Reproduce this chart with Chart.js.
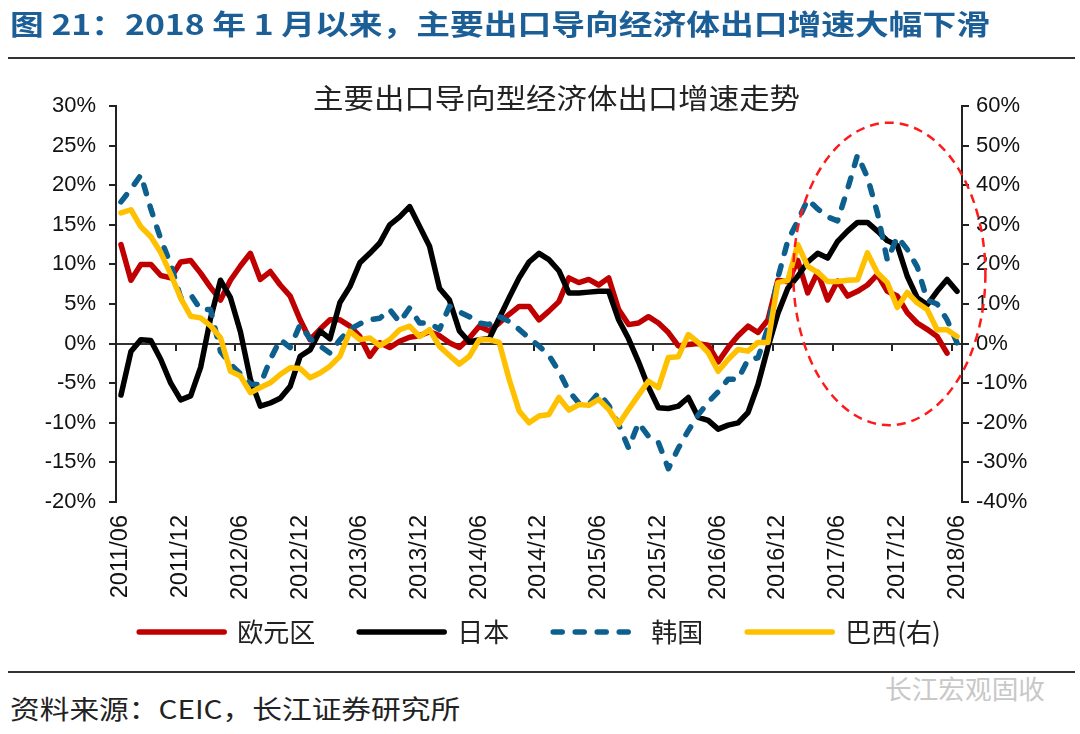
<!DOCTYPE html>
<html lang="zh-CN">
<head>
<meta charset="utf-8">
<title>主要出口导向型经济体出口增速走势</title>
<script src="https://cdn.jsdelivr.net/npm/chart.js@4.4.1/dist/chart.umd.min.js"></script>
<style>
  html, body { margin: 0; padding: 0; background: #fff; }
  #page { position: relative; width: 1080px; height: 734px; overflow: hidden; background: #fff;
          font-family: "Noto Sans CJK SC", "Noto Sans", sans-serif; }
  #page canvas { position: absolute; left: 0; top: 0; }
  .txt { position: absolute; white-space: nowrap; line-height: 1; transform-origin: 0 50%; }
  #head { left: 10px; top: 9px; font-size: 28px; font-weight: bold; color: #1c5f96; }
  .rule { position: absolute; left: 8px; width: 1067px; height: 2px; background: #333; }
  #ctitle { left: 313px; top: 83px; font-size: 28px; color: #222; }
  #src { left: 10px; top: 695px; font-size: 26px; color: #222; }
  #wm { left: 885px; top: 675px; font-size: 26px; color: #c8c8c8; }
</style>
</head>
<body>
<div id="page">
  <canvas id="chart" width="1080" height="660"></canvas>
  <div class="txt" id="head">图 21：2018 年 1 月以来，主要出口导向经济体出口增速大幅下滑</div>
  <div class="rule" style="top:57px"></div>
  <div class="txt" id="ctitle">主要出口导向型经济体出口增速走势</div>
  <div class="rule" style="top:671px"></div>
  <div class="txt" id="src">资料来源：CEIC，长江证券研究所</div>
  <div class="txt" id="wm">长江宏观固收</div>
</div>
<script>
// months 2011/06 .. 2018/06
const months = [];
for (let y = 2011, m = 6; y < 2018 || (y === 2018 && m <= 6);) {
    months.push(y + '/' + String(m).padStart(2, '0'));
    m++;
    if (m > 12) { m = 1; y++; }
}

// left axis, %
const euroArea = [12.5, 8.0, 10.0, 10.0, 8.6, 8.3, 10.3, 10.5, 8.9, 7.1,
    5.5, 8.0, 9.8, 11.4, 8.1, 9.1, 7.4, 6.0, 3.0, 0.5,
    1.8, 3.0, 3.0, 2.2, 0.9, -1.6, 0.1, -0.5, 0.3, 0.8,
    1.0, 1.5, 1.0, 0.1, -0.5, 0.7, 2.2, 1.6, 2.6, 3.7,
    4.7, 4.7, 3.0, 4.1, 5.3, 8.3, 7.7, 8.1, 7.4, 8.3,
    4.3, 2.4, 2.6, 3.4, 2.6, 1.4, -0.3, -0.1, 0.0, -0.2,
    -2.3, -0.5, 1.0, 2.2, 1.4, 3.0, 8.0, 7.8, 10.5, 6.4,
    9.0, 5.5, 7.9, 6.0, 6.6, 7.4, 8.7, 6.6, 6.0, 3.9,
    2.6, 1.8, 0.9, -1.2, null];

const japan = [-6.5, -1.0, 0.5, 0.4, -2.0, -5.0, -7.1, -6.6, -3.0, 3.2,
    8.0, 5.8, 1.5, -4.5, -7.9, -7.5, -6.9, -5.4, -1.6, -0.8,
    1.6, 0.6, 5.2, 7.2, 10.2, 11.4, 12.7, 15.0, 16.0, 17.3,
    14.8, 12.3, 7.0, 5.5, 1.6, 0.2, 0.5, 0.6, 3.2, 5.8,
    8.3, 10.3, 11.4, 10.6, 9.2, 6.4, 6.4, 6.5, 6.6, 6.6,
    3.0, 0.6, -2.3, -5.5, -8.1, -8.2, -7.9, -6.8, -9.3, -9.7,
    -10.8, -10.3, -10.0, -8.7, -5.2, -0.5, 3.8, 7.0, 8.5, 10.3,
    11.4, 10.8, 12.9, 14.2, 15.3, 15.3, 14.2, 13.0, 12.4, 8.5,
    5.8, 4.9, 6.6, 8.1, 6.6];

const korea = [17.9, 19.5, 21.3, 17.0, 13.2, 10.0, 5.8, 6.2, 4.3, 4.3,
    -1.0, -2.6, -3.8, -5.1, -5.2, -2.0, 0.5, -0.5, 2.4, 0.6,
    -0.3, -1.2, 0.5, 1.8, 2.5, 3.0, 3.2, 4.3, 2.7, 4.5,
    2.6, 2.6, 1.8, 4.7, 4.0, 3.4, 2.6, 2.4, 3.4, 2.8,
    1.8, 0.7, -0.3, -1.5, -3.5, -6.0, -7.5, -7.7, -6.2, -7.8,
    -10.2, -13.2, -10.0, -11.7, -12.5, -15.8, -13.2, -11.0, -9.0, -7.4,
    -6.1, -4.5, -4.5, -2.0, -1.8, 2.0, 8.3, 13.0, 15.5, 18.2,
    17.0, 16.0, 15.5, 19.5, 23.8, 21.0, 16.5, 10.5, 13.5, 11.9,
    9.7, 5.5, 5.0, 3.0, 0.1];

// right axis, %
const brazil = [33.0, 33.8, 29.5, 27.0, 23.0, 17.5, 11.5, 6.9, 6.5, 4.5,
    1.5, -7.0, -8.2, -12.4, -11.1, -9.9, -7.8, -6.1, -6.3, -8.6,
    -7.4, -5.7, -3.2, 3.1, 1.0, 1.4, -0.5, 1.0, 3.5, 4.4,
    1.8, 3.5, -0.7, -3.0, -5.2, -3.2, 1.0, 1.0, 0.3, -9.0,
    -17.0, -20.0, -18.3, -17.9, -13.6, -16.8, -15.4, -15.6, -14.1, -16.6,
    -20.4, -16.6, -13.0, -9.5, -11.1, -3.5, -3.3, 2.3, 0.3, -2.3,
    -7.0, -4.0, -1.5, -1.9, 0.3, 0.3, 15.4, 16.0, 25.0, 19.5,
    18.0, 15.7, 15.7, 16.0, 16.1, 22.9, 17.9, 15.4, 9.1, 12.9,
    10.3, 8.6, 3.5, 3.5, 1.8];

const seriesNames = ['欧元区', '日本', '韩国', '巴西(右)'];
const leftTicks = [-20, -15, -10, -5, 0, 5, 10, 15, 20, 25, 30];
const rightTicks = [-40, -30, -20, -10, 0, 10, 20, 30, 40, 50, 60];

// dashed ellipse around 2017: centre (month index, left-axis %) and radii
const ellipseCentre = [77.2, 8.8];
const ellipseRadius = [9.65, 19.1];

const tickFont = { family: 'Arial, "Liberation Sans", sans-serif', size: 22 };
const dateFont = { family: 'Arial, "Liberation Sans", sans-serif', size: 23.5 };

const line = {
    pointRadius: 0,
    pointHoverRadius: 0,
    tension: 0,
    borderWidth: 5.5,
    borderJoinStyle: 'round',
    borderCapStyle: 'round',
    fill: false,
    xAxisID: 'x'
};

const ellipseNote = {
    id: 'ellipseNote',
    afterDatasetsDraw(chart) {
        const { ctx } = chart;
        const x = chart.scales.x, y = chart.scales.y;
        const cx = x.getPixelForValue(ellipseCentre[0]);
        const cy = y.getPixelForValue(ellipseCentre[1]);
        const rx = Math.abs(x.getPixelForValue(ellipseCentre[0] + ellipseRadius[0]) - cx);
        const ry = Math.abs(y.getPixelForValue(ellipseCentre[1] + ellipseRadius[1]) - cy);
        ctx.save();
        ctx.beginPath();
        ctx.ellipse(cx, cy, rx, ry, 0, 0, Math.PI * 2);
        ctx.setLineDash([9, 6]);
        ctx.lineWidth = 2.5;
        ctx.strokeStyle = '#ff1a1a';
        ctx.stroke();
        ctx.restore();
    }
};

new Chart(document.getElementById('chart'), {
    type: 'line',
    data: {
        labels: months,
        datasets: [
            { ...line, label: seriesNames[0], data: euroArea, borderColor: '#c00000', backgroundColor: '#c00000', yAxisID: 'y', order: 4 },
            { ...line, label: seriesNames[1], data: japan, borderColor: '#000000', backgroundColor: '#000000', yAxisID: 'y', order: 3 },
            { ...line, label: seriesNames[2], data: korea, borderColor: '#0d5f8e', backgroundColor: '#0d5f8e', yAxisID: 'y', order: 2,
              borderDash: [9, 13] },
            { ...line, label: seriesNames[3], data: brazil, borderColor: '#ffc000', backgroundColor: '#ffc000', yAxisID: 'y1', order: 1 }
        ]
    },
    options: {
        responsive: false,
        animation: false,
        devicePixelRatio: 1,
        layout: { padding: { top: 106, left: 0, right: 0, bottom: 5 } },
        scales: {
            x: {
                type: 'category',
                position: 'bottom',
                offset: true,
                grid: { display: false, drawTicks: false },
                border: { display: false },
                ticks: {
                    autoSkip: false,
                    maxRotation: 90,
                    minRotation: 90,
                    padding: 13,
                    color: '#111',
                    font: dateFont,
                    callback: (v, i) => i % 6 === 0 ? months[i] : ''
                },
                afterFit: s => {
                    s.height = 73;
                    // labels run below the short axis box, so do not clip them
                    s._computeLabelArea = () => null;
                }
            },
            x2: {
                type: 'category',
                position: { y: 0 },
                offset: true,
                ticks: { display: false },
                grid: {
                    offset: true,
                    drawOnChartArea: false,
                    tickLength: 6,
                    lineWidth: 2,
                    color: c => c.index % 6 === 0 ? '#222' : 'rgba(0,0,0,0)'
                },
                border: { display: true, color: '#333', width: 2 }
            },
            y: {
                position: 'left',
                min: leftTicks[0],
                max: leftTicks[leftTicks.length - 1],
                afterBuildTicks: s => { s.ticks = leftTicks.map(v => ({ value: v })); },
                ticks: { color: '#111', font: tickFont, padding: 13, callback: v => v + '%' },
                grid: { drawOnChartArea: false, tickLength: 7, color: '#222', lineWidth: 2 },
                border: { display: true, color: '#222', width: 2 },
                afterFit: s => { s.width = 116; }
            },
            y1: {
                position: 'right',
                min: rightTicks[0],
                max: rightTicks[rightTicks.length - 1],
                afterBuildTicks: s => { s.ticks = rightTicks.map(v => ({ value: v })); },
                ticks: { color: '#111', font: tickFont, padding: 7, callback: v => v + '%' },
                grid: { drawOnChartArea: false, tickLength: 7, color: '#222', lineWidth: 2 },
                border: { display: true, color: '#222', width: 2 },
                afterFit: s => { s.width = 118; }
            }
        },
        plugins: {
            legend: {
                position: 'bottom',
                labels: {
                    usePointStyle: true,
                    pointStyle: 'line',
                    pointStyleWidth: 85,
                    padding: 44,
                    color: '#222',
                    font: { family: '"Noto Sans CJK SC", sans-serif', size: 26 },
                    sort: (a, b) => a.datasetIndex - b.datasetIndex,
                    generateLabels: chart => {
                        const items = Chart.defaults.plugins.legend.labels.generateLabels(chart);
                        items.forEach(item => {
                            const ds = chart.data.datasets[item.datasetIndex];
                            item.lineDash = ds.borderDash || [];
                            item.lineWidth = ds.borderWidth;
                            item.lineCap = 'round';
                            item.strokeStyle = ds.borderColor;
                        });
                        return items;
                    }
                }
            },
            tooltip: { enabled: false },
            title: { display: false }
        }
    },
    plugins: [ellipseNote]
});

// stretch the html text lines to the widths they have in the original
function fitWidth(id, width) {
    const el = document.getElementById(id);
    el.style.transform = 'scaleX(' + (width / el.offsetWidth) + ')';
}
fitWidth('head', 980);
fitWidth('ctitle', 487);
fitWidth('src', 450);
fitWidth('wm', 160);
</script>
</body>
</html>
